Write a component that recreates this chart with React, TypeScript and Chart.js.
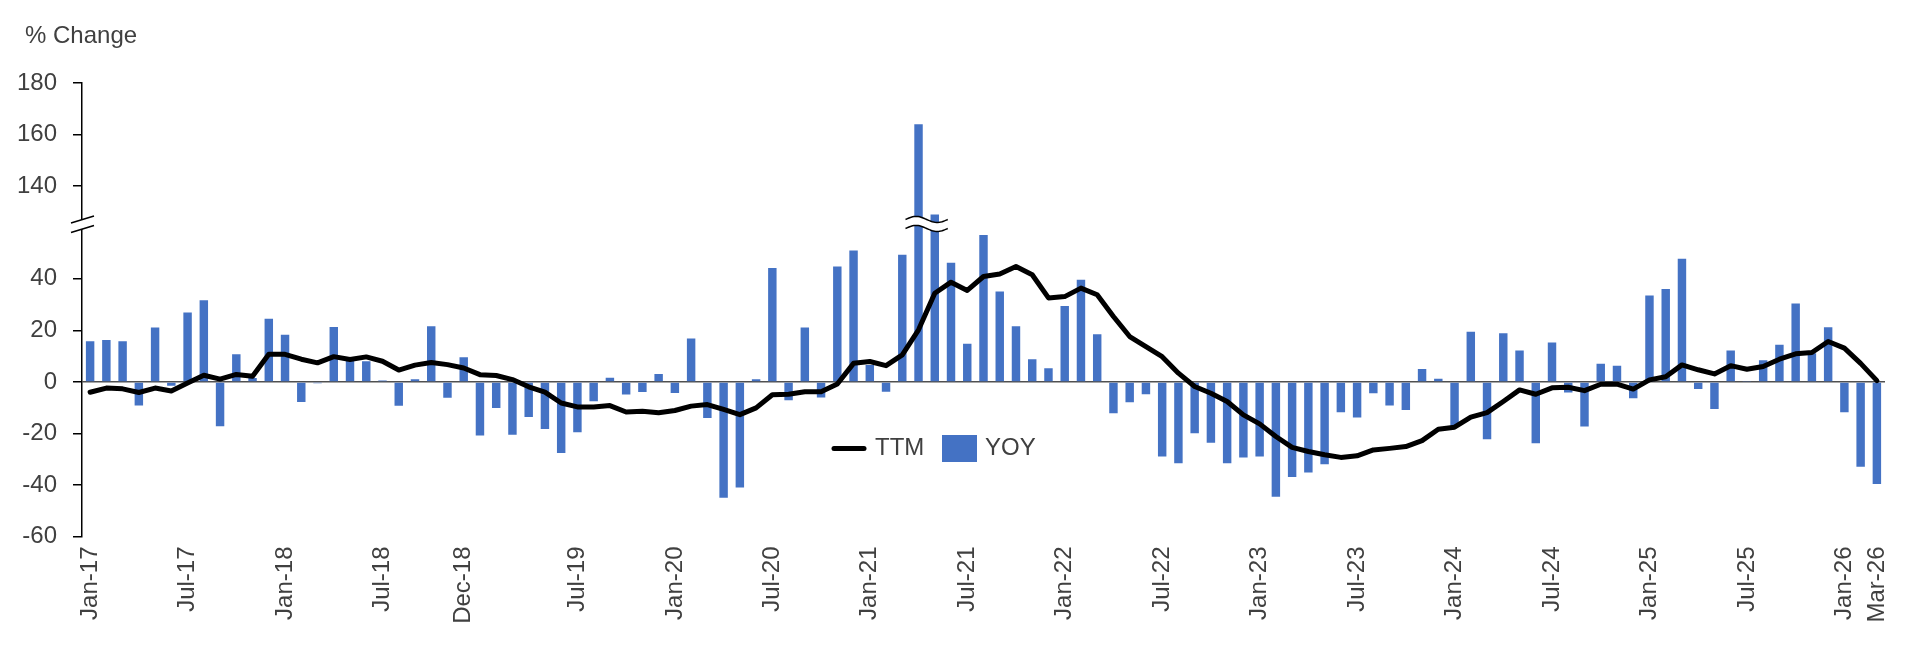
import { useEffect, useRef } from 'react';
import { Chart, registerables } from 'chart.js';

Chart.register(...registerables);

const MONTHS = ['Jan', 'Feb', 'Mar', 'Apr', 'May', 'Jun', 'Jul', 'Aug', 'Sep', 'Oct', 'Nov', 'Dec'];
const YEARS = ['17', '18', '19', '20', '21', '22', '23', '24', '25', '26'];

// YOY % change, Jan-17 .. Mar-26
const YOY = [
  15.8, 16.3, 15.8, -9.2, 21.1, -1.5, 26.9, 31.7, -17.2, 10.7, 1.5, 24.5,
  18.3, -7.8, -0.5, 21.3, 9.3, 8.0, 0.5, -9.3, 1.0, 21.6, -6.2, 9.6,
  -20.8, -10.1, -20.5, -13.6, -18.3, -27.6, -19.5, -7.5, 1.6, -4.9, -3.9, 3.1,
  -4.3, 16.8, -14.0, -45.0, -41.0, 1.0, 44.2, -7.1, 21.1, -6.1, 44.8, 51.0,
  6.6, -3.8, 49.3, 164.0, 129.0, 46.2, 14.8, 57.0, 35.1, 21.6, 8.8, 5.3,
  29.5, 39.6, 18.5, -12.2, -7.9, -4.8, -29.0, -31.6, -19.9, -23.6, -31.6, -29.3,
  -29.0, -44.6, -36.9, -35.2, -32.0, -11.8, -13.8, -4.4, -9.2, -10.9, 5.0, 1.2,
  -17.1, 19.5, -22.3, 18.9, 12.2, -23.8, 15.3, -4.1, -17.3, 7.0, 6.3, -6.3,
  33.5, 36.1, 47.8, -2.8, -10.5, 12.2, 0.3, 8.4, 14.4, 30.4, 11.1, 21.2,
  -11.8, -32.9, -39.6,
];

// TTM % change
const TTM = [
  -4.0, -2.4, -2.7, -4.1, -2.4, -3.5, -0.4, 2.6, 1.1, 2.9, 2.2, 10.7,
  10.7, 8.8, 7.4, 9.8, 8.7, 9.7, 8.0, 4.6, 6.5, 7.5, 6.7, 5.4,
  2.8, 2.5, 0.9, -1.9, -4.0, -8.2, -9.7, -9.7, -9.2, -11.7, -11.4, -12.0,
  -11.1, -9.4, -8.8, -10.7, -12.7, -10.1, -5.0, -4.8, -3.8, -3.8, -0.8, 7.2,
  7.9, 6.3, 10.5, 20.2, 34.4, 38.7, 35.5, 40.9, 41.9, 44.8, 41.6, 32.6,
  33.1, 36.4, 33.8, 25.4, 17.6, 13.7, 9.8, 3.4, -1.8, -4.4, -7.6, -12.8,
  -16.3, -21.2, -25.4, -27.0, -28.3, -29.3, -28.7, -26.4, -25.8, -25.1, -22.8, -18.4,
  -17.6, -13.7, -11.9, -7.6, -3.1, -4.8, -2.3, -2.1, -3.4, -0.9, -0.9, -2.8,
  0.8, 2.0, 6.6, 4.7, 3.1, 6.3, 4.9, 6.0, 8.8, 10.9, 11.4, 15.7,
  13.1, 7.2, 0.5,
];

const TICK_LABELS = [
  'Jan-17', 'Jul-17', 'Jan-18', 'Jul-18', 'Dec-18', 'Jul-19', 'Jan-20', 'Jul-20', 'Jan-21', 'Jul-21',
  'Jan-22', 'Jul-22', 'Jan-23', 'Jul-23', 'Jan-24', 'Jul-24', 'Jan-25', 'Jul-25', 'Jan-26', 'Mar-26',
];

const Y_TICKS = [-60, -40, -20, 0, 20, 40, 140, 160, 180];

const CATEGORIES = YEARS.flatMap(yy => MONTHS.map(m => `${m}-${yy}`)).slice(0, YOY.length);

// broken y axis: values above UPPER_START are shifted down by GAP
const UPPER_START = 120;
const GAP = 64;
const BREAK_AT = 61.3;
const toAxis = (v: number) => (v >= UPPER_START ? v - GAP : v);
const fromAxis = (t: number) => (t > BREAK_AT ? t + GAP : t);

const FONT = '"Liberation Sans", Arial, sans-serif';
const TEXT = '#404040';
const BLUE = '#4472C4';

const decorPlugin = {
  id: 'decor',
  afterDatasetsDraw(chart: any) {
    const { ctx, scales } = chart;
    const x = scales.x;
    const y = scales.y;
    const yb = y.getPixelForValue(BREAK_AT);
    const idx = YOY.map((v, i) => (v >= UPPER_START ? i : -1)).filter(i => i >= 0);
    if (!idx.length) return;
    const x0 = x.getPixelForValue(idx[0]) - 13;
    const x1 = x.getPixelForValue(idx[idx.length - 1]) + 13;
    const wave = (yc: number, reverse: boolean) => {
      const n = 30;
      for (let k = 0; k <= n; k++) {
        const t = reverse ? 1 - k / n : k / n;
        const px = x0 + (x1 - x0) * t;
        const py = yc - 3 * Math.sin(2 * Math.PI * t);
        if (k === 0 && !reverse) ctx.moveTo(px, py);
        else ctx.lineTo(px, py);
      }
    };
    ctx.save();
    ctx.beginPath();
    wave(yb - 4.5, false);
    wave(yb + 4.5, true);
    ctx.closePath();
    ctx.fillStyle = '#fff';
    ctx.fill();
    ctx.strokeStyle = '#000';
    ctx.lineWidth = 1.5;
    ctx.beginPath();
    wave(yb - 4.5, false);
    ctx.stroke();
    ctx.beginPath();
    wave(yb + 4.5, false);
    ctx.stroke();
    ctx.restore();
  },
  afterDraw(chart: any) {
    const { ctx, chartArea, scales } = chart;
    const y = scales.y;
    const ax = chartArea.left;
    const yb = y.getPixelForValue(BREAK_AT);

    ctx.save();
    // axis break
    ctx.fillStyle = '#fff';
    ctx.beginPath();
    ctx.moveTo(ax - 11, yb - 1);
    ctx.lineTo(ax + 12, yb - 8);
    ctx.lineTo(ax + 12, yb + 1.5);
    ctx.lineTo(ax - 11, yb + 8.5);
    ctx.closePath();
    ctx.fill();
    ctx.strokeStyle = '#000';
    ctx.lineWidth = 1.5;
    ctx.beginPath();
    ctx.moveTo(ax - 11, yb - 1);
    ctx.lineTo(ax + 12, yb - 8);
    ctx.moveTo(ax - 11, yb + 8.5);
    ctx.lineTo(ax + 12, yb + 1.5);
    ctx.stroke();

    // title
    ctx.fillStyle = TEXT;
    ctx.font = `24px ${FONT}`;
    ctx.textBaseline = 'alphabetic';
    ctx.textAlign = 'left';
    ctx.fillText('% Change', 25, 43);

    // legend
    const ly = 448.5;
    ctx.strokeStyle = '#000';
    ctx.lineWidth = 5;
    ctx.lineCap = 'round';
    ctx.beginPath();
    ctx.moveTo(834, ly);
    ctx.lineTo(864, ly);
    ctx.stroke();
    ctx.textBaseline = 'middle';
    ctx.fillText('TTM', 875, ly);
    ctx.fillStyle = BLUE;
    ctx.fillRect(942, ly - 13.5, 35, 27);
    ctx.fillStyle = TEXT;
    ctx.fillText('YOY', 985, ly);
    ctx.restore();
  },
};

export default function App() {
  const canvasRef = useRef<HTMLCanvasElement>(null);

  useEffect(() => {
    if (!canvasRef.current) return;
    const chart = new Chart(canvasRef.current, {
      type: 'bar',
      data: {
        labels: CATEGORIES,
        datasets: [
          {
            type: 'line',
            label: 'TTM',
            data: TTM.map(toAxis),
            borderColor: '#000',
            borderWidth: 5,
            borderJoinStyle: 'round',
            borderCapStyle: 'round',
            pointRadius: 0,
            tension: 0,
            order: 0,
          },
          {
            type: 'bar',
            label: 'YOY',
            data: YOY.map(toAxis),
            backgroundColor: BLUE,
            categoryPercentage: 1,
            barPercentage: 0.52,
            order: 1,
          },
        ],
      },
      options: {
        animation: false,
        responsive: true,
        maintainAspectRatio: false,
        layout: { padding: { top: 83, right: 35, bottom: 0, left: 0 } },
        plugins: {
          legend: { display: false },
          tooltip: { enabled: false },
        },
        scales: {
          x: {
            offset: true,
            grid: { display: false, drawTicks: false },
            border: { display: false },
            afterFit: (s: any) => { s.height = 113.5; },
            ticks: {
              autoSkip: false,
              minRotation: 90,
              maxRotation: 90,
              padding: 10,
              color: TEXT,
              font: { family: FONT, size: 24 },
              callback: (_v: any, i: number) => (TICK_LABELS.includes(CATEGORIES[i]) ? CATEGORIES[i] : ''),
            },
          },
          y: {
            min: toAxis(-60),
            max: toAxis(180),
            afterBuildTicks: (s: any) => {
              s.ticks = Y_TICKS.map(v => ({ value: toAxis(v) }));
            },
            afterFit: (s: any) => { s.width = 82; },
            border: { display: true, color: '#000', width: 1.5 },
            grid: {
              drawTicks: true,
              tickLength: 9,
              tickColor: '#000',
              lineWidth: 1.5,
              color: (c: any) => (c.tick && c.tick.value === 0 ? '#505050' : 'rgba(0,0,0,0)'),
            },
            ticks: {
              padding: 16,
              color: TEXT,
              font: { family: FONT, size: 24 },
              callback: (v: any) => String(fromAxis(Number(v))),
            },
          },
        },
      },
      plugins: [decorPlugin],
    });
    return () => chart.destroy();
  }, []);

  return (
    <div style={{ position: 'fixed', left: 0, top: 0, width: 1920, height: 650, background: '#fff' }}>
      <canvas ref={canvasRef}></canvas>
    </div>
  );
}
